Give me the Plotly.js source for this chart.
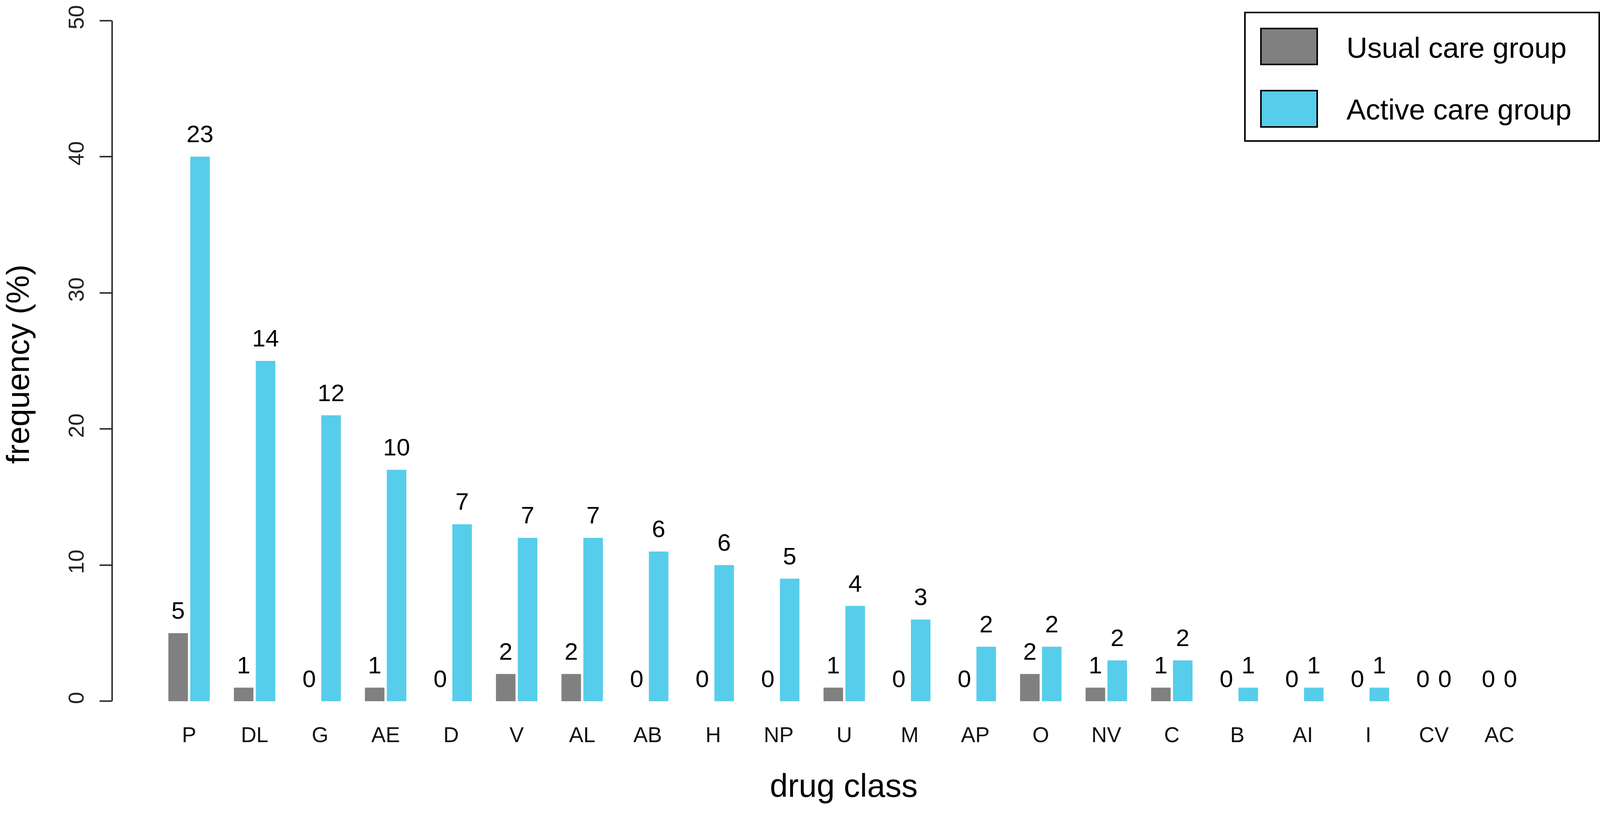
<!DOCTYPE html>
<html>
<head>
<meta charset="utf-8">
<script src="https://cdn.plot.ly/plotly-3.0.1.min.js"></script>
<style>html,body{margin:0;padding:0;background:#fff;}#chart{width:4117px;height:2084px;}</style>
</head>
<body>
<div id="chart"></div>
<script>
// ---- data ----
const categories = ["P","DL","G","AE","D","V","AL","AB","H","NP","U","M","AP","O","NV","C","B","AI","I","CV","AC"];
const usualPct   = [5,1,0,1,0,2,2,0,0,0,1,0,0,2,1,1,0,0,0,0,0];
const activePct  = [40,25,21,17,13,12,12,11,10,9,7,6,4,4,3,3,1,1,1,0,0];
const usualCount = [5,1,0,1,0,2,2,0,0,0,1,0,0,2,1,1,0,0,0,0,0];
const activeCount= [23,14,12,10,7,7,7,6,6,5,4,3,2,2,2,2,1,1,1,0,0];
const seriesNames = ["Usual care group","Active care group"];
const yTicks = [0,10,20,30,40,50];

// ---- style ----
const colUsual = "#808080";
const colActive = "#56CDEA";
const FONT = "Liberation Sans, Arial, Helvetica, sans-serif";
const labelOffset = 1.5;
const GAP = 0.332;

const W = 4117, H = 2084;
const L = 287, R = 84, T = 0, B = 219;
const plotW = W - L - R, plotH = H - T - B;
const pxPerUnit = 34.855;
const yMin = -2;
const yMax = yMin + plotH / pxPerUnit;
const px2x = p => (p - L) / plotW;
const px2y = p => (H - B - p) / plotH;

const traces = [
  {type:"bar", name:seriesNames[0], x:categories, y:usualPct, marker:{color:colUsual, line:{width:0}}, hoverinfo:"skip"},
  {type:"bar", name:seriesNames[1], x:categories, y:activePct, marker:{color:colActive, line:{width:0}}, hoverinfo:"skip"},
  {type:"scatter", mode:"text", orientation:"v", x:categories, y:usualPct.map(v=>v+labelOffset), text:usualCount.map(String),
   textposition:"middle center", textfont:{family:FONT, size:62, color:"#000"}, showlegend:false, hoverinfo:"skip"},
  {type:"scatter", mode:"text", orientation:"v", x:categories, y:activePct.map(v=>v+labelOffset), text:activeCount.map(String),
   textposition:"middle center", textfont:{family:FONT, size:62, color:"#000"}, showlegend:false, hoverinfo:"skip"}
];

const shapes = [
  // y axis line from 0 to 50 (R-style)
  {type:"line", xref:"paper", yref:"y", x0:0, x1:0, y0:yTicks[0], y1:yTicks[yTicks.length-1], line:{color:"#333", width:4}},
  // legend box
  {type:"rect", xref:"paper", yref:"paper", x0:px2x(3187), x1:px2x(4094), y0:px2y(32), y1:px2y(361), line:{color:"#000", width:4}, fillcolor:"rgba(255,255,255,0)"},
  {type:"rect", xref:"paper", yref:"paper", x0:px2x(3228), x1:px2x(3372), y0:px2y(73), y1:px2y(165), line:{color:"#000", width:4}, fillcolor:colUsual},
  {type:"rect", xref:"paper", yref:"paper", x0:px2x(3228), x1:px2x(3372), y0:px2y(232), y1:px2y(325), line:{color:"#000", width:4}, fillcolor:colActive}
];

const annotations = [
  {xref:"paper", yref:"paper", x:px2x(3445), y:px2y(122), xanchor:"left", yanchor:"middle", showarrow:false, text:seriesNames[0], font:{family:FONT, size:74, color:"#000"}},
  {xref:"paper", yref:"paper", x:px2x(3445), y:px2y(281), xanchor:"left", yanchor:"middle", showarrow:false, text:seriesNames[1], font:{family:FONT, size:74, color:"#000"}}
];

const layout = {
  width:W, height:H,
  margin:{l:L, r:R, t:T, b:B, pad:0},
  paper_bgcolor:"#fff", plot_bgcolor:"#fff",
  font:{family:FONT, color:"#000"},
  showlegend:false,
  barmode:"group", bargap:GAP, bargroupgap:0.107,
  scattermode:"group", scattergap:GAP,
  xaxis:{
    type:"category", range:[-1.175, 21.16],
    showline:false, showgrid:false, zeroline:false, ticks:"",
    tickfont:{family:FONT, size:55, color:"#111"},
    ticklabelstandoff:-21,
    title:{text:"drug class", font:{family:FONT, size:83, color:"#000"}, standoff:70}
  },
  yaxis:{
    range:[yMin, yMax],
    tickvals:yTicks, ticktext:yTicks.map(String),
    showline:false, showgrid:false, zeroline:false,
    ticks:"outside", ticklen:31, tickwidth:4, tickcolor:"#333",
    tickangle:-90,
    tickfont:{family:FONT, size:56, color:"#222"},
    ticklabelstandoff:19,
    title:{text:"frequency (%)", font:{family:FONT, size:82, color:"#000"}, standoff:86}
  },
  shapes:shapes,
  annotations:annotations
};

Plotly.newPlot("chart", traces, layout, {staticPlot:true, displayModeBar:false});
</script>
</body>
</html>
